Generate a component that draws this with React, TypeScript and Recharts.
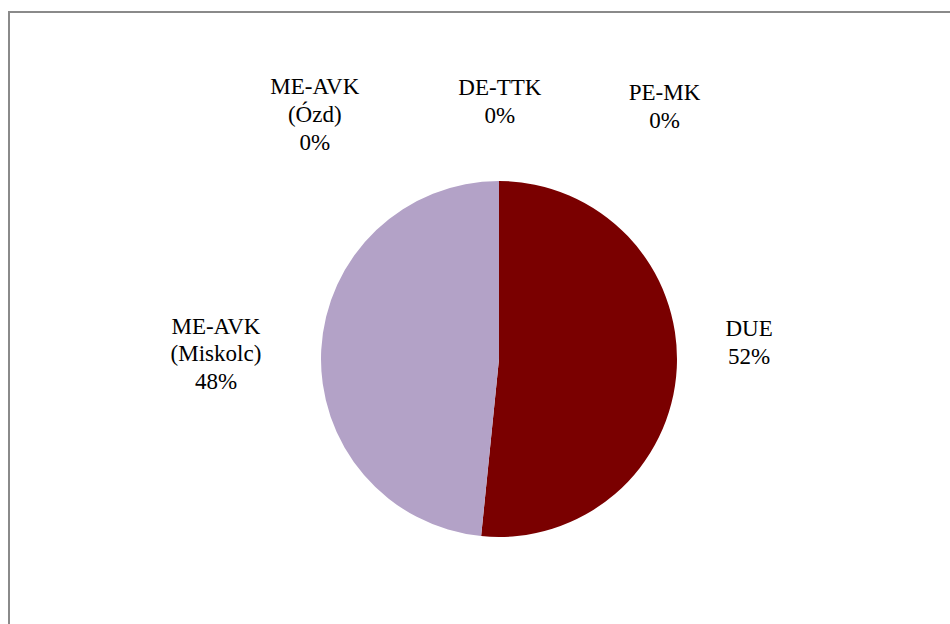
import React from "react";
import { PieChart, Pie, Cell } from "recharts";

const categories: string[][] = [
  ["DUE"],
  ["ME-AVK", "(Miskolc)"],
  ["ME-AVK", "(Ózd)"],
  ["DE-TTK"],
  ["PE-MK"],
];
const values: number[] = [51.6, 48.4, 0, 0, 0];
const colors: string[] = ["#7a0000", "#b3a2c7", "#4f81bd", "#9bbb59", "#f79646"];

// label placement, in units of the pie radius, relative to the centre
const labelOffsets: [number, number][] = [
  [1.405, -0.095],
  [-1.59, -0.03],
  [-1.035, -1.375],
  [0.005, -1.45],
  [0.93, -1.42],
];

const total = values.reduce((a, b) => a + b, 0);
const data = categories.map((c, i) => ({ name: c.join(" "), value: values[i], idx: i }));

const FS = 23;
const LH = 27.6;
const FONT = "Liberation Serif, DejaVu Serif, serif";

const renderLabel = (props: any) => {
  const { cx, cy, outerRadius, index } = props;
  const i = index;
  const [ox, oy] = labelOffsets[i];
  const x = cx + ox * outerRadius;
  const y = cy + oy * outerRadius;
  const lines = [...categories[i], `${Math.round((values[i] / total) * 100)}%`];
  const n = lines.length;
  const top = y - ((n - 1) * LH) / 2;
  return (
    <g key={`lbl-${i}`}>
      {lines.map((l, k) => (
        <text
          key={k}
          x={x}
          y={top + k * LH}
          dy="0.34em"
          textAnchor="middle"
          fill="#000"
          fontFamily={FONT}
          fontSize={FS}
          style={{ fontFamily: FONT, fontSize: FS }}
        >
          {l}
        </text>
      ))}
    </g>
  );
};

export default function App() {
  return (
    <div
      style={{
        position: "fixed",
        left: 0,
        top: 0,
        width: 950,
        height: 624,
        overflow: "hidden",
        background: "#fff",
        fontFamily: FONT,
      }}
    >
      <div
        style={{
          position: "absolute",
          left: 8,
          top: 11,
          width: 1000,
          height: 1000,
          borderLeft: "2px solid #8a8a8a",
          borderTop: "2px solid #8a8a8a",
        }}
      />
      <div style={{ position: "absolute", left: 0, top: 0 }}>
        <PieChart
          width={950}
          height={624}
          margin={{ top: 0, right: 0, bottom: 0, left: 0 }}
        >
          <Pie
            data={data}
            dataKey="value"
            nameKey="name"
            cx={499}
            cy={359}
            outerRadius={178}
            startAngle={90}
            endAngle={-270}
            stroke="none"
            label={renderLabel}
            labelLine={false}
            isAnimationActive={false}
          >
            {data.map((d, i) => (
              <Cell key={i} fill={colors[i]} stroke="none" />
            ))}
          </Pie>
        </PieChart>
      </div>
    </div>
  );
}
